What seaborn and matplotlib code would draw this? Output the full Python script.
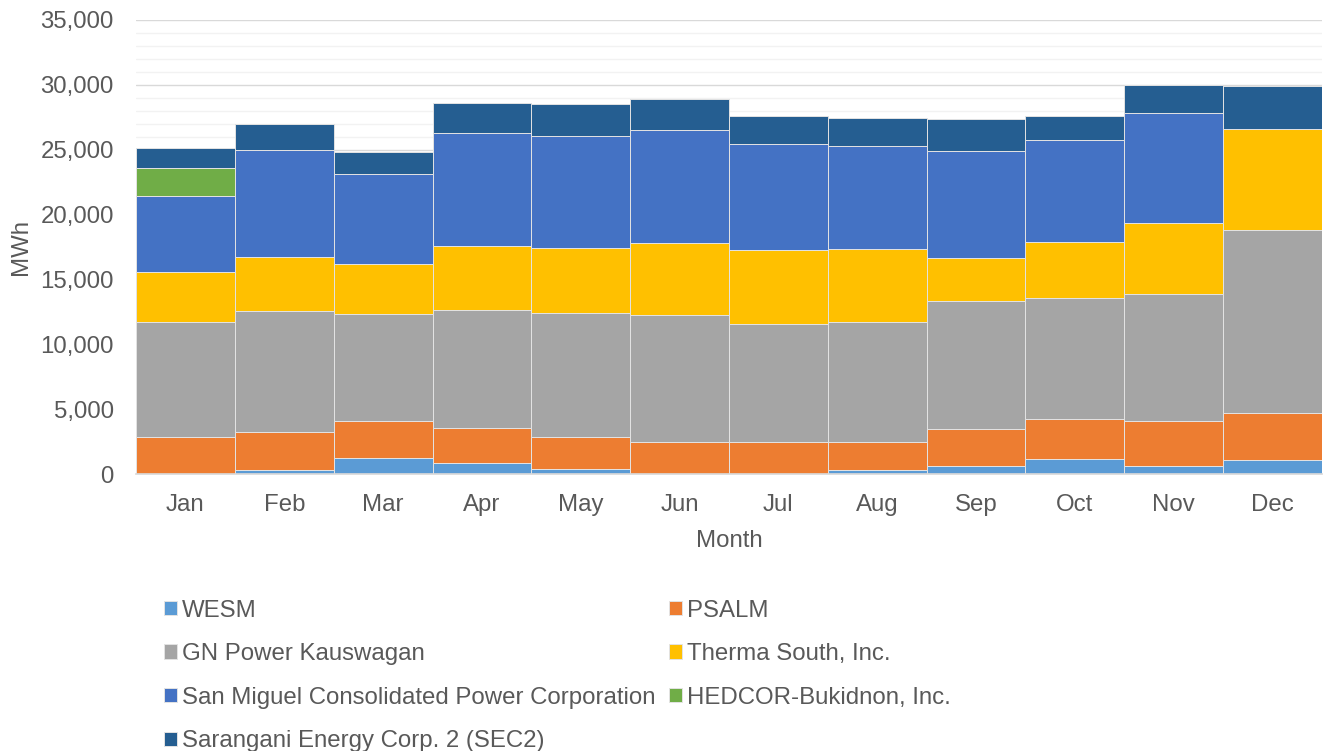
import matplotlib
matplotlib.use("Agg")
import matplotlib.pyplot as plt
from matplotlib.ticker import MultipleLocator, FuncFormatter
import numpy as np
import seaborn as sns

months = ['Jan', 'Feb', 'Mar', 'Apr', 'May', 'Jun', 'Jul', 'Aug', 'Sep', 'Oct', 'Nov', 'Dec']

wesm = [0, 310, 1257, 823, 360, 0, 0, 282, 642, 1156, 642, 1079]
psalm = [2830, 2952, 2853, 2697, 2467, 2493, 2442, 2160, 2853, 3084, 3444, 3598]
gn_power = [8890, 9304, 8250, 9149, 9561, 9765, 9098, 9303, 9817, 9355, 9818, 14134]
therma = [3855, 4164, 3805, 4934, 5062, 5551, 5703, 5575, 3367, 4291, 5471, 7814]
smc = [5837, 8224, 6964, 8713, 8586, 8689, 8162, 7993, 8223, 7864, 8483, 0]
hedcor = [2181, 0, 0, 0, 0, 0, 0, 0, 0, 0, 0, 0]
sec2 = [1519, 2029, 1721, 2284, 2514, 2413, 2173, 2111, 2444, 1877, 2132, 3288]

series = [
    ('WESM', wesm, '#5B9BD5'),
    ('PSALM', psalm, '#ED7D31'),
    ('GN Power Kauswagan', gn_power, '#A5A5A5'),
    ('Therma South, Inc.', therma, '#FFC000'),
    ('San Miguel Consolidated Power Corporation', smc, '#4472C4'),
    ('HEDCOR-Bukidnon, Inc.', hedcor, '#70AD47'),
    ('Sarangani Energy Corp. 2 (SEC2)', sec2, '#255E91'),
]

sns.set_theme(style='white')
plt.rcParams['font.family'] = ['Liberation Sans', 'DejaVu Sans']
fs = 17.25

fig = plt.figure(figsize=(13.27, 7.51), dpi=100)
ax = fig.add_axes([0.1025, 0.3688, 0.8937, 0.6046])

x = np.arange(len(months))
bottom = np.zeros(len(months))
handles = []
for name, vals, col in series:
    vals = np.array(vals, dtype=float)
    h = ax.bar(x, vals, width=1.0, bottom=bottom, color=col, edgecolor='#e3e3e3',
               linewidth=0.7, label=name, zorder=3)
    handles.append(h)
    bottom += vals

ax.set_xlim(-0.5, 11.5)
ax.set_ylim(0, 35000)
ax.yaxis.set_major_locator(MultipleLocator(5000))
ax.yaxis.set_minor_locator(MultipleLocator(1000))
ax.yaxis.set_major_formatter(FuncFormatter(lambda v, p: f'{int(v):,}'))
ax.grid(axis='y', which='major', color='#d9d9d9', linewidth=1.0, zorder=0)
ax.grid(axis='y', which='minor', color='#f2f2f2', linewidth=1.0, zorder=0)
ax.set_axisbelow(True)

ax.set_xticks(x)
ax.set_xticklabels(months)
ax.tick_params(axis='both', which='both', length=0, labelsize=fs, colors='#595959')
ax.tick_params(axis='y', pad=16)
ax.tick_params(axis='x', pad=14.5)

for s in ['top', 'right', 'left']:
    ax.spines[s].set_visible(False)
ax.spines['bottom'].set_color('#d9d9d9')
ax.spines['bottom'].set_zorder(4)

ax.set_xlabel('Month', fontsize=fs, color='#595959', labelpad=10)
ax.set_ylabel('MWh', fontsize=fs, color='#595959', labelpad=6)

# legend reads row by row: WESM, PSALM / GN, Therma / SMC, HEDCOR / SEC2
order = [0, 2, 4, 6, 1, 3, 5]
leg = fig.legend([handles[i] for i in order], [series[i][0] for i in order],
                 loc='upper left', bbox_to_anchor=(0.1075, 0.2304), ncol=2,
                 frameon=False, fontsize=fs, handlelength=0.55, handleheight=0.55,
                 handletextpad=0.2, columnspacing=0.55, labelspacing=0.9)
for t in leg.get_texts():
    t.set_color('#595959')

fig.savefig('out.png', dpi=100)
